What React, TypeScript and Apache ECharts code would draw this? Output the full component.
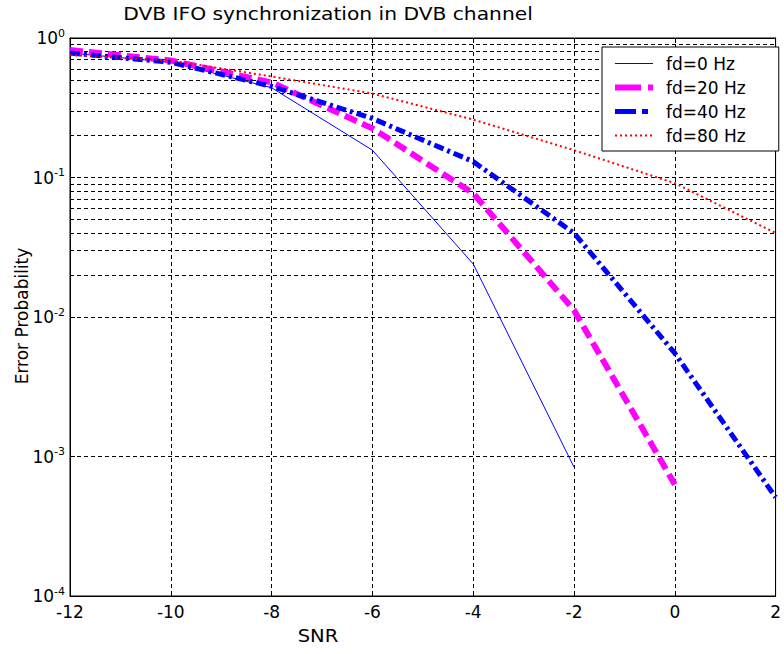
import React, { useEffect, useRef } from "react";
import * as echarts from "echarts";

// Error probability vs SNR for several Doppler spreads
const snrFd0 = [-12, -10, -8, -6, -4, -2];
const perFd0 = [0.78, 0.67, 0.44, 0.157, 0.024, 0.00084];

const snrFd20 = [-12, -10, -8, -6, -4, -2, 0];
const perFd20 = [0.82, 0.69, 0.48, 0.225, 0.077, 0.0112, 0.00063];

const snrFd40 = [-12, -10, -8, -6, -4, -2, 0, 2];
const perFd40 = [0.78, 0.67, 0.45, 0.265, 0.13, 0.04, 0.0055, 0.00051];

const snrFd80 = [-12, -10, -8, -6, -4, -2, 0, 2];
const perFd80 = [0.755, 0.69, 0.53, 0.4, 0.26, 0.157, 0.091, 0.04];

const seriesNames = ["fd=0 Hz", "fd=20 Hz", "fd=40 Hz", "fd=80 Hz"];

// log grid: decades and the 2..9 sub-divisions inside each
const decadeStarts = [1e-4, 1e-3, 1e-2, 1e-1];
const minorMultipliers = [2, 3, 4, 5, 6, 7, 8, 9];

const FONT = '"DejaVu Sans", "Liberation Sans", Arial, sans-serif';
const GRID_DASH = [4, 3];

// line styles per curve (plot) and their legend samples
const curveStyles = [
  { color: "#0000ff", width: 1, type: "solid" as any, legendType: "solid" as any },
  { color: "#ff00ff", width: 6, type: [13, 6], legendType: [26, 7, 5, 40] },
  { color: "#0000ff", width: 5, type: [10, 4, 3, 4], legendType: [21, 6, 6, 40] },
  { color: "#ff0000", width: 2, type: [2, 3], legendType: [2, 3] },
];

const pairs = (xs: number[], ys: number[]) => xs.map((x, i) => [x, ys[i]]);

export default function App() {
  const ref = useRef<HTMLDivElement>(null);

  useEffect(() => {
    const chart = echarts.init(ref.current!, null, { renderer: "svg" });

    const minorLines: any[] = [];
    decadeStarts.forEach((d) =>
      minorMultipliers.forEach((m) => minorLines.push({ yAxis: +(d * m).toPrecision(3) }))
    );

    const gridLine = { color: "#000", width: 1, type: GRID_DASH };
    const frameLine = { show: true, onZero: false, lineStyle: { color: "#000", width: 1 } };
    const innerTick = { show: true, inside: true, length: 5, lineStyle: { color: "#000" } };
    const seriesData = [
      pairs(snrFd0, perFd0),
      pairs(snrFd20, perFd20),
      pairs(snrFd40, perFd40),
      pairs(snrFd80, perFd80),
    ];

    const textEl = (text: string, x: number, y: number, extra: any = {}) => ({
      type: "text",
      x,
      y,
      silent: true,
      ...extra,
      style: {
        text,
        font: `17px ${FONT}`,
        fill: "#000",
        textAlign: "center",
        textVerticalAlign: "middle",
        align: "center",
        verticalAlign: "middle",
      },
    });

    const option: any = {
      animation: false,
      backgroundColor: "#fff",
      grid: {
        left: 70,
        right: 6,
        top: 38,
        bottom: 58,
        show: true,
        borderColor: "#000",
        borderWidth: 1,
        backgroundColor: "#fff",
      },
      graphic: [
        textEl("DVB IFO synchronization in DVB channel", 328, 14, { scaleX: 1.19 }),
        textEl("SNR", 318, 636, { scaleX: 1.15 }),
        textEl("Error Probability", 22, 316, { rotation: Math.PI / 2 }),
      ],
      legend: {
        z: 10,
        data: seriesNames.map((name, i) => ({
          name,
          lineStyle: {
            color: curveStyles[i].color,
            width: curveStyles[i].width,
            type: curveStyles[i].legendType,
          },
        })),
        orient: "vertical",
        left: 602,
        top: 47,
        padding: [8, 33, 7, 10],
        itemWidth: 38,
        itemHeight: 14,
        itemGap: 7,
        backgroundColor: "#fff",
        borderColor: "#000",
        borderWidth: 1,
        borderRadius: 0,
        selectedMode: false,
        itemStyle: { color: "rgba(0,0,0,0)", borderWidth: 0, opacity: 0 },
        textStyle: {
          fontFamily: FONT,
          fontSize: 17,
          color: "#000",
          padding: [0, 0, 0, 8],
        },
      },
      xAxis: [
        {
          type: "value",
          min: -12,
          max: 2,
          interval: 2,
          axisLine: frameLine,
          axisTick: innerTick,
          splitLine: { show: true, lineStyle: gridLine },
          axisLabel: { margin: 7, fontFamily: FONT, fontSize: 17, color: "#000" },
        },
        {
          type: "value",
          position: "top",
          min: -12,
          max: 2,
          interval: 2,
          axisLine: frameLine,
          axisTick: innerTick,
          splitLine: { show: false },
          axisLabel: { show: false },
        },
      ],
      yAxis: [
        {
          type: "log",
          logBase: 10,
          min: 1e-4,
          max: 1,
          splitNumber: 4,
          axisLine: frameLine,
          axisTick: innerTick,
          splitLine: { show: true, lineStyle: gridLine },
          axisLabel: {
            margin: 5,
            formatter: (v: number) => `{b|10}{s|${Math.round(Math.log10(v))}}`,
            rich: {
              b: { fontFamily: FONT, fontSize: 17, color: "#000" },
              s: { fontFamily: FONT, fontSize: 11, color: "#000", padding: [0, 0, 10, 0] },
            },
          },
        },
        {
          type: "log",
          logBase: 10,
          min: 1e-4,
          max: 1,
          splitNumber: 4,
          position: "right",
          axisLine: frameLine,
          axisTick: innerTick,
          splitLine: { show: false },
          axisLabel: { show: false },
        },
      ],
      series: [
        {
          // minor log gridlines
          type: "line",
          data: [],
          silent: true,
          z: 1,
          markLine: {
            z: 1,
            silent: true,
            symbol: ["none", "none"],
            label: { show: false },
            lineStyle: { color: "#000", width: 1, type: GRID_DASH },
            emphasis: { disabled: true },
            data: minorLines,
          },
        },
        ...seriesNames.map((name, i) => ({
          name,
          type: "line",
          data: seriesData[i],
          showSymbol: false,
          symbol: "none",
          z: 3,
          lineStyle: {
            color: curveStyles[i].color,
            width: curveStyles[i].width,
            type: curveStyles[i].type,
          },
          itemStyle: { color: curveStyles[i].color },
        })),
      ],
    };

    chart.setOption(option);
    return () => chart.dispose();
  }, []);

  return (
    <div
      ref={ref}
      style={{ position: "absolute", left: 0, top: 0, width: 784, height: 654, background: "#fff" }}
    />
  );
}
